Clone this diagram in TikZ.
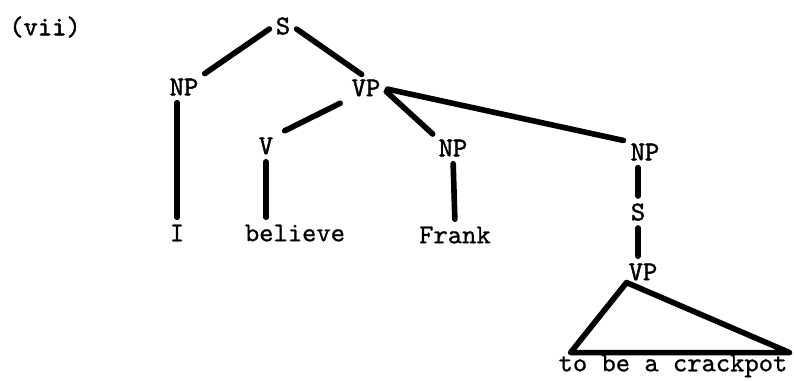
\documentclass[tikz,border=0pt]{standalone}
\usepackage{fontspec}
\newfontfamily\typer{lmmono10-regular.otf}[FakeBold=1.5]
\newfontfamily\typerlight{lmmono10-regular.otf}[FakeBold=0.8]
\begin{document}
\begin{tikzpicture}[x=0.02cm,y=-0.02cm,
  cat/.style={font=\fontsize{15.5}{17}\typer,inner sep=1pt},
  word/.style={font=\fontsize{15.5}{17}\typerlight,inner sep=1pt},
  branch/.style={line width=3.2pt,line cap=round,shorten <=3pt,shorten >=3pt}]
  \useasboundingbox (0,0) rectangle (794,380);
  \node[cat] (label) at (45,27) {(vii)};
  % categories
  \node[cat] (s) at (283,26) {S};
  \node[cat] (np1) at (184,87) {NP};
  \node[cat] (vp1) at (366,88) {VP};
  \node[cat] (v) at (266,146) {V};
  \node[cat] (np2) at (453,148) {NP};
  \node[cat] (np3) at (645,152) {NP};
  \node[cat] (s2) at (638,212) {S};
  \node[cat] (vp2) at (643,272) {VP};
  % words
  \node[word] (i) at (177,233) {I};
  \node[word] (believe) at (295,233) {believe};
  \node[word] (frank) at (455,235) {Frank};
  \node[word] (crackpot) at (673,366) {to be a crackpot};
  % branches
  \draw[branch] (s.west) -- (np1.north east);
  \draw[branch] (s.east) -- (vp1.north);
  \draw[branch,shorten <=6pt,shorten >=6pt] (vp1.south west) -- (v.north east);
  \draw[branch] (vp1.east) -- (np2.north west);
  \draw[branch] (vp1.east) -- (np3.north west);
  \draw[branch] (np1.south -| i) -- (i.north);
  \draw[branch] (v.south) -- (v |- believe.north);
  \draw[branch] (np2.south) -- (frank.north);
  \draw[branch] (np3.south -| s2) -- (s2.north);
  \draw[branch] (s2.south) -- (s2 |- vp2.north);
  \draw[line width=3.2pt,line join=round] (vp2.south west) -- ([xshift=8]crackpot.north west) -- (crackpot.north east) -- cycle;
\end{tikzpicture}
\end{document}
